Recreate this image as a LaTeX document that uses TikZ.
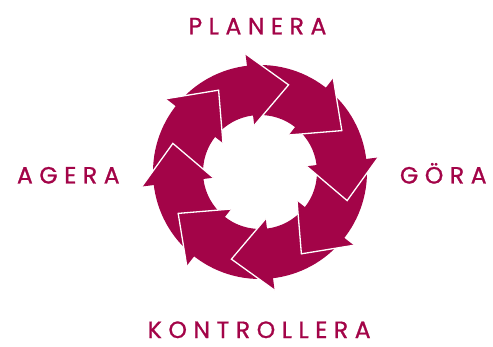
\documentclass[tikz,border=0pt]{standalone}
\usepackage{fontspec}
\usetikzlibrary{calc}
\newfontfamily\labelfont[LetterSpace=28,FakeBold=1]{Poppins}
\definecolor{wine}{RGB}{163,4,72}
\tikzset{
  lbl/.style={text=wine, font=\labelfont\fontsize{23.5}{26}\selectfont, anchor=base, inner sep=0pt},
  headedge/.style={draw=white, line width=1.3pt, line join=miter}
}
\begin{document}
\begin{tikzpicture}[x=1pt,y=1pt]
\useasboundingbox (0,0) rectangle (493,346);
\coordinate (c) at (260,174);
% the ring that carries the eight arrows
\fill[wine,even odd rule] (c) circle[radius=107] (c) circle[radius=57];
% arrow heads, clockwise
\foreach \a [count=\i] in {97,52,7,-38,-83,-128,-173,142} {
  \coordinate (o\i) at ($(c)+(\a:119)$);
  \coordinate (n\i) at ($(c)+(\a:47)$);
  \coordinate (t\i) at ($(c)+(\a:83)+(\a-90:39)$);
  \fill[wine] (o\i) -- (t\i) -- (n\i) -- cycle;
}
\foreach \i in {1,...,8} {
  \draw[headedge] (o\i) -- (t\i) -- (n\i);
}
\node[lbl] (planera) at (257.5,311.7) {PLANERA};
\node[lbl] (gora) at (443.3,162.5) {GÖRA};
\node[lbl] (kontrollera) at (259.2,8) {KONTROLLERA};
\node[lbl] (agera) at (68.3,162.5) {AGERA};
\end{tikzpicture}
\end{document}
